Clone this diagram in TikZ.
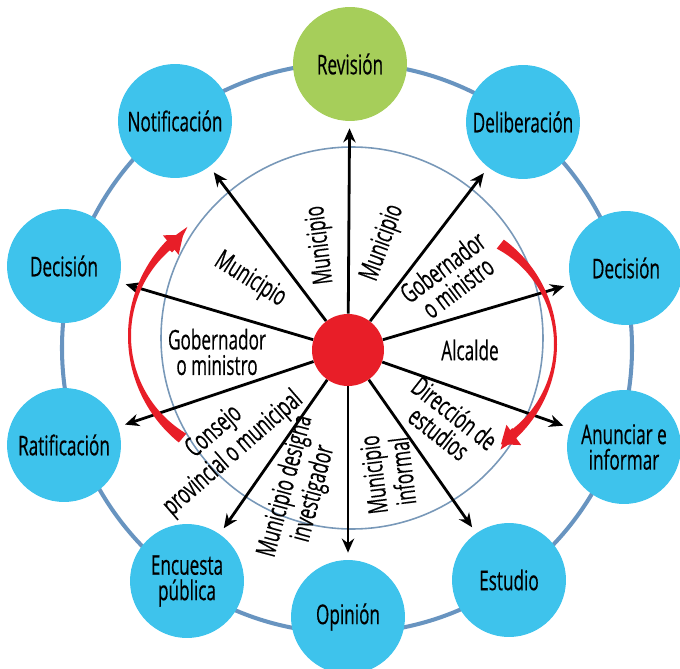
\documentclass[tikz,border=0pt]{standalone}
\usepackage{fontspec}
\setmainfont{Open Sans}[FakeStretch=0.63, FakeBold=0.4]
\usetikzlibrary{arrows.meta}
\definecolor{skyfill}{RGB}{62,195,236}
\definecolor{limefill}{RGB}{166,206,90}
\definecolor{ringblue}{RGB}{104,148,192}
\definecolor{thinblue}{RGB}{120,152,184}
\definecolor{hubred}{RGB}{232,30,40}

\begin{document}
\begin{tikzpicture}[x=0.02cm, y=-0.02cm, >={Stealth[length=8pt, width=7pt]},
    every node/.style={font=\fontsize{15.5}{14.5}\selectfont, align=center},
    stage/.style={circle, fill=skyfill, minimum size=2.28cm, inner sep=0pt},
    spoke/.style={->, line width=1.6pt, shorten >=0.14cm},
    sweep/.style={hubred, line width=0.2cm, -{Triangle[length=0.32cm, width=0.48cm]}}]
    \useasboundingbox (0,0) rectangle (680,669);
    \draw[ringblue, line width=2.3pt] (347,348) circle[radius=285];
    \draw[thinblue, line width=0.9pt] (352,338) circle[radius=191];

    \node[circle, fill=hubred, minimum size=1.44cm] (O) at (348,350) {};
    \node[stage, fill=limefill] (Rv) at (350,64) {Revisión};
    \node[stage] (Dl) at (523,122) {Deliberación};
    \node[stage] (Dd) at (626,268) {Decisión};
    \node[stage] (An) at (624,447) {Anunciar e\\informar};
    \node[stage] (Es) at (509,580) {Estudio};
    \node[stage] (Op) at (348,617) {Opinión};
    \node[stage] (En) at (187,581) {Encuesta\\pública};
    \node[stage] (Ra) at (64,445) {Ratificación};
    \node[stage] (Di) at (64,266) {Decisión};
    \node[stage] (No) at (175,121) {Notificación};

    \foreach \t in {Rv, Dl, Dd, An, Es, Op, En, Ra, Di, No}
        \draw[spoke] (O) -- (\t);

    \node[rotate=-32] at (250,280) {Municipio};
    \node[rotate=97] at (321,245) {Municipio};
    \node[rotate=70] at (383,243) {Municipio};
    \node[rotate=37] at (450,277) {Gobernador\\o ministro};
    \node at (470,350) {Alcalde};
    \node[rotate=-38] at (447,423) {Dirección de\\estudios};
    \node[rotate=97] at (388,473) {Municipio\\informal};
    \node[rotate=75] at (300,490) {Municipio designa\\investigador};
    \node[rotate=41] at (224,443) {Consejo\\provincial o municipal};
    \node at (217,352) {Gobernador\\o ministro};

    \fill[hubred] ([shift={(129:137)}]265,336) arc[start angle=129, end angle=226, radius=137]
        -- ([shift={(234:114)}]245,336) arc[start angle=234, end angle=121, radius=114] -- cycle;
    \draw[sweep] ([shift={(222:130)}]265,336) arc[start angle=222, end angle=231, radius=130];
    \fill[hubred] ([shift={(-54:129)}]428,344) arc[start angle=-54, end angle=45, radius=129]
        -- ([shift={(53:108)}]446,344) arc[start angle=53, end angle=-62, radius=108] -- cycle;
    \draw[sweep] ([shift={(45:124)}]428,344) arc[start angle=45, end angle=54, radius=124];
\end{tikzpicture}
\end{document}
